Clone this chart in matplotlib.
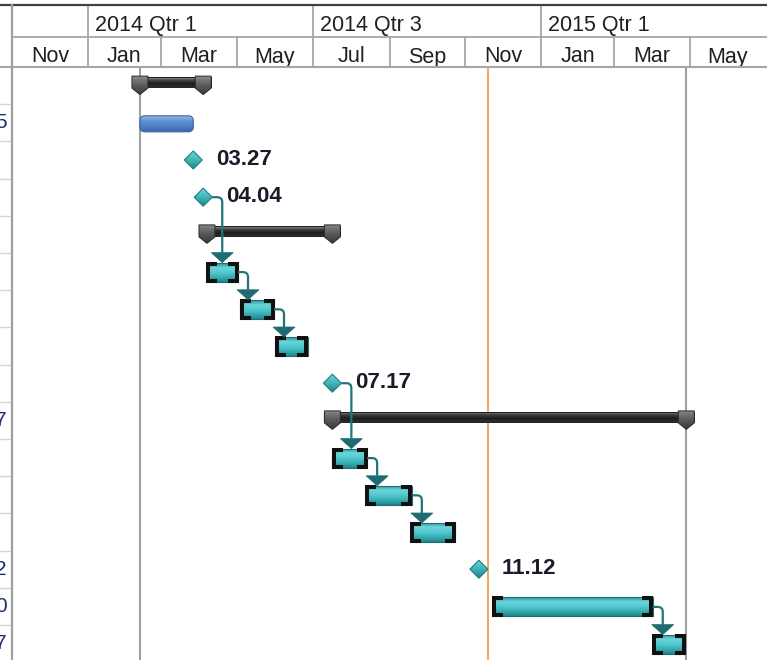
import numpy as np
import matplotlib.pyplot as plt
from matplotlib.patches import Polygon, Rectangle, FancyBboxPatch, PathPatch
from matplotlib.path import Path
from matplotlib.colors import LinearSegmentedColormap

plt.rcParams['font.family'] = ['Liberation Sans', 'DejaVu Sans']

# ---- data ----
kinds = ['summary', 'plain', 'milestone', 'milestone', 'summary', 'task', 'task', 'task',
         'milestone', 'summary', 'task', 'task', 'task', 'milestone', 'task', 'task']
starts = ['2014-02-12', '2014-02-12', '2014-03-27', '2014-04-04', '2014-04-07', '2014-04-07',
          '2014-05-04', '2014-06-01', '2014-07-17', '2014-07-17', '2014-07-17', '2014-08-13',
          '2014-09-18', '2014-11-12', '2014-11-23', '2015-04-01']
ends = ['2014-04-04', '2014-03-27', '2014-03-27', '2014-04-04', '2014-07-17', '2014-05-02',
        '2014-05-31', '2014-06-27', '2014-07-17', '2015-04-28', '2014-08-14', '2014-09-19',
        '2014-10-24', '2014-11-12', '2015-04-01', '2015-04-27']
ms_labels = {2: '03.27', 3: '04.04', 8: '07.17', 13: '11.12'}
links = [(3, 5), (5, 6), (6, 7), (8, 10), (10, 11), (11, 12), (14, 15)]
side_digits = {1: '5', 9: '7', 13: '2', 14: '0', 15: '7'}

month_edges = ['2013-11-01', '2014-01-01', '2014-03-01', '2014-05-01', '2014-07-01', '2014-09-01',
               '2014-11-01', '2015-01-01', '2015-03-01', '2015-05-01', '2015-07-01']
month_labels = ['Nov', 'Jan', 'Mar', 'May', 'Jul', 'Sep', 'Nov', 'Jan', 'Mar', 'May']
qtr_edges = ['2014-01-01', '2014-07-01', '2015-01-01']
qtr_labels = ['2014 Qtr 1', '2014 Qtr 3', '2015 Qtr 1']
project_start = '2014-02-12'
status_date = '2014-11-19'
project_finish = '2015-04-28'

# ---- layout ----
W, H = 767, 660
LEFT = 12
HEAD = 67
ROW = 37.2

t0 = np.datetime64('2014-01-01')


def day(s):
    return int((np.datetime64(s) - t0).astype(int))


xmin, xmax = day('2013-11-01'), day('2015-07-02')
PX = (W - LEFT) / (xmax - xmin)


def dx(p):
    return p / PX


def dy(p):
    return p / ROW


fig = plt.figure(figsize=(W / 100, H / 100), dpi=100)
ax = fig.add_axes([LEFT / W, 0, (W - LEFT) / W, (H - HEAD) / H])
ybot = -0.5 + (H - HEAD) / ROW
ax.set_xlim(xmin, xmax)
ax.set_ylim(ybot, -0.5)
ax.set_autoscale_on(False)
ax.axis('off')


def grad(patch, cols, ext, z):
    patch.set_facecolor('none')
    patch.set_edgecolor('none')
    ax.add_patch(patch)
    cm = LinearSegmentedColormap.from_list('g', cols)
    x0, x1, top, bot = ext
    im = ax.imshow(np.linspace(0, 1, 60)[:, None], cmap=cm, extent=(x0, x1, bot, top),
                   origin='upper', aspect='auto', interpolation='bilinear', zorder=z)
    im.set_clip_path(patch)


def draw_summary(r, s, e):
    top, bot = r - dy(8.5), r + dy(1.5)
    x0, x1 = s - dx(8), e + dx(8)
    grad(Rectangle((x0, top), x1 - x0, bot - top),
         ['#9a9a9a', '#404040', '#1c1c1c', '#2e2e2e'], (x0, x1, top, bot), 3)
    ax.add_patch(Rectangle((x0, top), x1 - x0, bot - top, fc='none', ec='#1e1e1e', lw=0.7, zorder=4))
    for c in (s, e):
        pts = [(c - dx(8), top - dy(1)), (c + dx(8), top - dy(1)), (c + dx(8), bot + dy(1)),
               (c, bot + dy(7.5)), (c - dx(8), bot + dy(1))]
        grad(Polygon(pts), ['#8a8a8a', '#5a5a5a', '#3a3a3a'],
             (c - dx(8), c + dx(8), top - dy(1), bot + dy(7.5)), 4.5)
        ax.add_patch(Polygon(pts, fc='none', ec='#2a2a2a', lw=0.7, zorder=4.6))


def draw_task(r, s, e):
    top, bot = r - dy(9), r + dy(10)
    grad(Rectangle((s, top), e - s, bot - top),
         ['#2c9097', '#6ad6db', '#52c8cf', '#37adb4', '#23858b'], (s, e, top, bot), 3)
    ax.add_patch(Rectangle((s, top), e - s, bot - top, fc='none', ec='#1d6f75', lw=0.8, zorder=4))
    st = dx(9)
    for xe, sg in ((s + dx(1.5), 1), (e - dx(1.5), -1)):
        ax.plot([xe + sg * st, xe, xe, xe + sg * st], [top + dy(1), top + dy(1), bot - dy(1), bot - dy(1)],
                color='#111111', lw=2.9, solid_joinstyle='miter', solid_capstyle='butt', zorder=5)


def draw_plain(r, s, e):
    top, bot = r - dy(7), r + dy(9)
    box = FancyBboxPatch((s, top), e - s, bot - top,
                         boxstyle='round,pad=0,rounding_size=%f' % dx(5), mutation_aspect=PX / ROW)
    grad(box, ['#93b8e4', '#5c90d2', '#4a7ec0', '#3a66a6'], (s, e, top, bot), 3)
    box2 = FancyBboxPatch((s, top), e - s, bot - top, boxstyle='round,pad=0,rounding_size=%f' % dx(5),
                          mutation_aspect=PX / ROW, fc='none', ec='#3d66a3', lw=0.8, zorder=4)
    ax.add_patch(box2)


def draw_milestone(r, m, label):
    pts = [(m - dx(9), r), (m, r - dy(9)), (m + dx(9), r), (m, r + dy(9))]
    grad(Polygon(pts), ['#72d6db', '#40b5bc', '#25848a'], (m - dx(9), m + dx(9), r - dy(9), r + dy(9)), 3)
    ax.add_patch(Polygon(pts, fc='none', ec='#1f7d83', lw=0.8, zorder=4))
    ax.text(m + dx(23), r + dy(5), label, fontsize=16, fontweight='bold', ha='left', va='baseline',
            color='#1a1a28', zorder=7)


S = [day(s) for s in starts]
E = [day(e) for e in ends]

ax.axvline(day(project_start), color='#a0a0a0', lw=1.5, zorder=1)
ax.axvline(day(project_finish), color='#a0a0a0', lw=1.5, zorder=1)
ax.axvline(day(status_date), color='#f6a868', lw=1.5, zorder=1)

for r, k in enumerate(kinds):
    if k == 'summary':
        draw_summary(r, S[r], E[r])
    elif k == 'task':
        draw_task(r, S[r], E[r])
    elif k == 'plain':
        draw_plain(r, S[r], E[r])
    else:
        draw_milestone(r, S[r], ms_labels[r])

# links between tasks
for p, q in links:
    if kinds[p] == 'milestone':
        xo, y0 = S[p] + dx(9), p
    else:
        xo, y0 = E[p], p + dy(0.5)
    cx = xo + dx(10)
    topq = q - dy(9)
    ya = topq - dy(10)
    verts = [(xo, y0), (cx - dx(5), y0), (cx, y0), (cx, y0 + dy(5)), (cx, ya)]
    codes = [Path.MOVETO, Path.LINETO, Path.CURVE3, Path.CURVE3, Path.LINETO]
    ax.add_patch(PathPatch(Path(verts, codes), fc='none', ec='#22737a', lw=1.6, zorder=6))
    ax.add_patch(Polygon([(cx - dx(11), ya), (cx + dx(11), ya), (cx, topq)],
                         fc='#1e6b71', ec='#1e6b71', lw=0.5, zorder=6))

# ---- timescale header ----
hx = fig.add_axes([LEFT / W, 1 - HEAD / H, (W - LEFT) / W, HEAD / H])
hx.set_xlim(xmin, xmax)
hx.set_ylim(HEAD, 0)
hx.axis('off')
hdr_col = '#a6a6a6'
txt_col = '#202020'
for ed in month_edges[1:-1]:
    hx.plot([day(ed), day(ed)], [37, 66], color=hdr_col, lw=1.3)
for i, lab in enumerate(month_labels):
    c = (day(month_edges[i]) + day(month_edges[i + 1])) / 2
    hx.text(c, 62.5, lab, fontsize=15.5, ha='center', va='baseline', color=txt_col)
for ed, lab in zip(qtr_edges, qtr_labels):
    hx.plot([day(ed), day(ed)], [5, 37], color=hdr_col, lw=1.3)
    hx.text(day(ed) + dx(7), 31, lab, fontsize=15.5, ha='left', va='baseline', color=txt_col)

# ---- left table strip ----
ls = fig.add_axes([0, 0, LEFT / W, (H - HEAD) / H])
ls.set_xlim(0, LEFT)
ls.set_ylim(ybot, -0.5)
ls.axis('off')
for r in range(len(kinds)):
    ls.axhline(r + 0.5, color='#d6d6d6', lw=1)
for r, d in side_digits.items():
    ls.text(7, r, d, fontsize=15, ha='right', va='center', color='#1c2f6b', clip_on=True)

# ---- frame lines ----
fr = fig.add_axes([0, 0, 1, 1], zorder=10)
fr.set_xlim(0, W)
fr.set_ylim(H, 0)
fr.patch.set_alpha(0)
fr.axis('off')
fr.plot([0, W], [5, 5], color='#404040', lw=1.6)
fr.plot([LEFT, W], [37, 37], color=hdr_col, lw=1.3)
fr.plot([0, W], [66.5, 66.5], color=hdr_col, lw=1.5)
fr.plot([LEFT, LEFT], [5, H], color='#a0a0a0', lw=1.6)

fig.savefig('out.png', dpi=100)
